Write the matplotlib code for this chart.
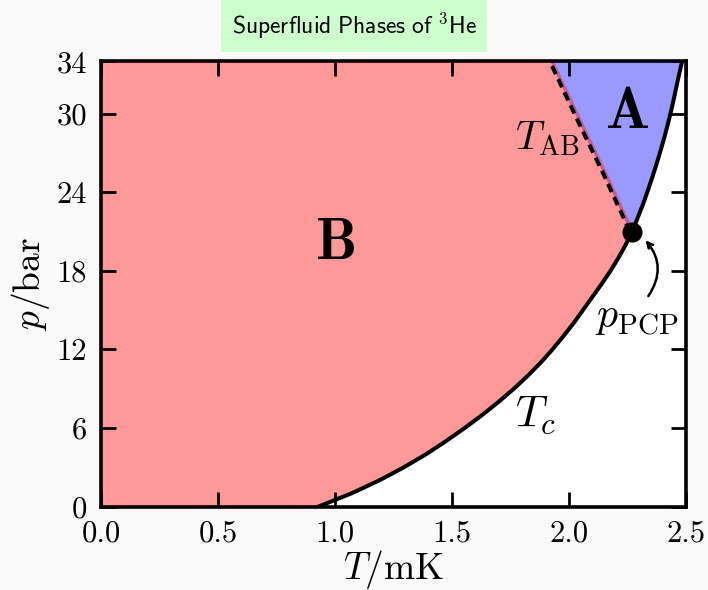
import matplotlib
matplotlib.use('Agg')
import matplotlib.pyplot as plt
import matplotlib.transforms as mtransforms

# T_c(p) line (mK, bar)
tc_p = [0, 1, 2, 3, 4, 5, 6, 7, 8, 9, 10, 11, 12, 13, 14, 15, 16, 17,
        18, 19, 20, 21, 22, 23, 24, 25, 26, 27, 28, 29, 30, 31, 32, 33, 34]
tc_T = [0.93, 1.07, 1.19, 1.295, 1.39, 1.475, 1.555, 1.63, 1.70, 1.765,
        1.825, 1.88, 1.93, 1.976, 2.02, 2.06, 2.10, 2.14, 2.178, 2.212,
        2.243, 2.27, 2.293, 2.315, 2.335, 2.354, 2.372, 2.389, 2.405, 2.42,
        2.434, 2.447, 2.459, 2.471, 2.484]

# A-B transition line
ab_T = [2.27, 2.16, 2.06, 1.928]
ab_p = [21.0, 25.3, 29.0, 34.0]

# polycritical point
pcp_T = 2.27
pcp_p = 21.0
i_pcp = tc_p.index(21)

x_ticks = [0.0, 0.5, 1.0, 1.5, 2.0, 2.5]
y_ticks = [0, 6, 12, 18, 24, 30, 34]

#-------------------------------------------------------------------------
# Configure matplotlib
#-------------------------------------------------------------------------

plt.rcParams['font.family']      = 'cmr10'
plt.rcParams['mathtext.fontset'] = 'cm'
plt.rcParams['axes.formatter.use_mathtext'] = True

fig = plt.figure(figsize=(7.08, 5.9), dpi=100, facecolor='#fafafa')
ax = fig.add_axes([0.1427, 0.1415, 0.826, 0.7545])

# B phase: left of T_c below the PCP and left of T_AB above it
b_T = [0.0] + tc_T[:i_pcp + 1] + ab_T[1:] + [0.0]
b_p = [0.0] + tc_p[:i_pcp + 1] + ab_p[1:] + [34.0]
ax.fill(b_T, b_p, color='#ff9999', lw=0)

# A phase: between T_AB and T_c above the PCP
a_T = ab_T + tc_T[:i_pcp:-1] + [pcp_T]
a_p = ab_p + tc_p[:i_pcp:-1] + [pcp_p]
ax.fill(a_T, a_p, color='#9999ff', lw=0)

ax.plot(ab_T, ab_p, color='#c0609a', lw=2.6, solid_capstyle='butt')
shift = mtransforms.offset_copy(ax.transData, fig=fig, x=-1.6, y=0, units='points')
ax.plot(ab_T, ab_p, color='black', lw=2.9, dashes=(2.2, 1.4), transform=shift)

ax.plot(tc_T, tc_p, color='black', lw=2.9, solid_joinstyle='round')
ax.plot([pcp_T], [pcp_p], marker='o', color='black', markersize=13.5)

ax.annotate('', xy=(2.32, 20.5), xytext=(2.333, 15.9),
            arrowprops=dict(arrowstyle='->', color='black', lw=1.8,
                            connectionstyle='arc3,rad=0.4'))

ax.text(1.0, 20.0, r'$\mathbf{B}$', fontsize=42, ha='center', va='center')
ax.text(2.25, 30.0, r'$\mathbf{A}$', fontsize=42, ha='center', va='center')
ax.text(1.91, 28.1, r'$T_{\mathrm{AB}}$', fontsize=29, ha='center', va='center')
ax.text(1.86, 7.0, r'$T_c$', fontsize=32, ha='center', va='center')
ax.text(2.29, 14.4, r'$p_{\mathrm{PCP}}$', fontsize=30, ha='center', va='center')

ax.set_xlim(0, 2.5)
ax.set_ylim(0, 34)
ax.set_xticks(x_ticks)
ax.set_xticklabels(['%.1f' % v for v in x_ticks])
ax.set_yticks(y_ticks)
ax.set_yticklabels(['%d' % v for v in y_ticks])
ax.tick_params(direction='in', length=11, width=2.0, top=True, right=True,
               labelsize=22, pad=10)
for s in ax.spines.values():
    s.set_linewidth(2.6)

ax.set_xlabel(r'$T/\mathrm{mK}$', fontsize=27, labelpad=0)
ax.set_ylabel(r'$p/\mathrm{bar}$', fontsize=27, labelpad=3)

fig.text(0.5, 0.956, r'$\mathsf{Superfluid\ Phases\ of\ }{}^{\mathsf{3}}\mathsf{He}$',
         fontsize=17, ha='center', va='center',
         bbox=dict(boxstyle='square,pad=0.45', facecolor='#ccffcc', edgecolor='none'))

plt.savefig('out.png', dpi=100, facecolor=fig.get_facecolor())
